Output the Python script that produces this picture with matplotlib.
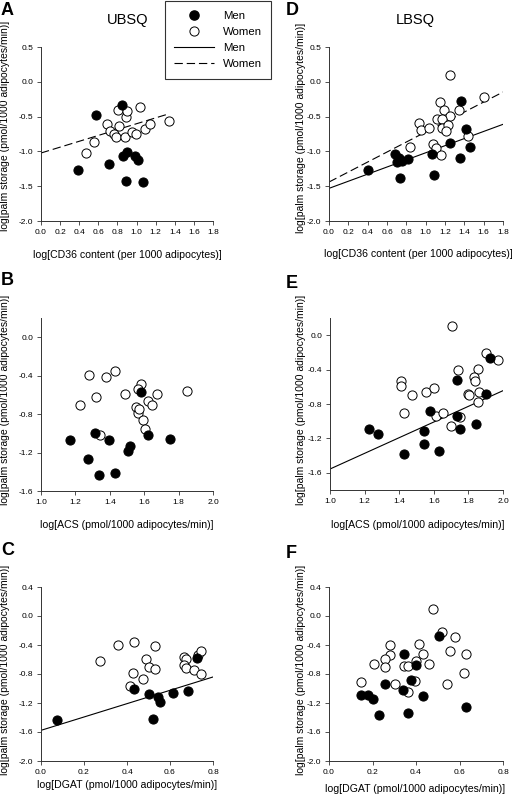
import numpy as np
import matplotlib.pyplot as plt
from matplotlib.lines import Line2D

plt.rcParams["font.family"] = ["Liberation Sans", "DejaVu Sans"]

# ---- data ----
# A: UBSQ vs CD36
a_men_x = [0.848, 0.576, 0.391, 0.712, 0.900, 0.855, 0.987, 1.012, 0.890, 1.071]
a_men_y = [-0.333, -0.477, -1.272, -1.186, -1.009, -1.071, -1.066, -1.128, -1.425, -1.435]
a_women_x = [0.471, 0.551, 0.687, 0.722, 0.760, 0.785, 0.802, 0.816, 0.879, 0.890,
             0.900, 0.952, 0.994, 1.036, 1.085, 1.144, 1.340]
a_women_y = [-1.03, -0.87, -0.60, -0.70, -0.745, -0.80, -0.40, -0.63, -0.79, -0.50,
             -0.42, -0.716, -0.755, -0.362, -0.673, -0.60, -0.563]
a_women_fit_x = [0.0, 1.343]
a_women_fit_y = [-1.023, -0.458]

# D: LBSQ vs CD36
d_men_x = [0.400, 0.683, 0.724, 0.703, 0.752, 0.821, 0.731, 1.062, 1.090, 1.255,
           1.366, 1.421, 1.359, 1.455]
d_men_y = [-1.262, -1.042, -1.095, -1.157, -1.143, -1.109, -1.377, -1.033, -1.339, -0.884,
           -0.276, -0.678, -1.090, -0.942]
d_women_x = [1.255, 1.603, 1.145, 1.190, 1.345, 1.252, 1.114, 1.169, 1.166, 1.231,
             1.210, 0.931, 0.955, 1.034, 0.838, 1.072, 1.103, 1.162, 1.441]
d_women_y = [0.098, -0.218, -0.285, -0.41, -0.40, -0.49, -0.53, -0.53, -0.669, -0.62,
             -0.70, -0.597, -0.697, -0.659, -0.932, -0.898, -0.946, -1.052, -0.784]
d_men_fit_x = [0.0, 1.8]
d_men_fit_y = [-1.531, -0.611]
d_women_fit_x = [0.0, 1.8]
d_women_fit_y = [-1.44, -0.147]

# B: UBSQ vs ACS
b_men_x = [1.171, 1.275, 1.316, 1.339, 1.395, 1.430, 1.504, 1.517, 1.579, 1.622, 1.748]
b_men_y = [-1.066, -1.264, -1.0, -1.43, -1.073, -1.416, -1.184, -1.128, -0.573, -1.021, -1.062]
b_women_x = [1.227, 1.277, 1.320, 1.378, 1.428, 1.341, 1.488, 1.579, 1.566, 1.550,
             1.562, 1.568, 1.591, 1.603, 1.620, 1.643, 1.672, 1.847]
b_women_y = [-0.702, -0.390, -0.622, -0.414, -0.351, -1.021, -0.594, -0.490, -0.539, -0.729,
             -0.788, -0.747, -0.861, -0.955, -0.664, -0.709, -0.591, -0.556]

# E: LBSQ vs ACS
e_men_x = [1.227, 1.277, 1.428, 1.541, 1.543, 1.576, 1.630, 1.736, 1.736, 1.753,
           1.842, 1.900, 1.925]
e_men_y = [-1.09, -1.145, -1.381, -1.265, -1.114, -0.881, -1.343, -0.525, -0.943, -1.09,
           -1.033, -0.680, -0.269]
e_women_x = [1.707, 1.900, 1.969, 1.738, 1.855, 1.830, 1.836, 1.410, 1.410, 1.474,
             1.555, 1.601, 1.796, 1.803, 1.863, 1.855, 1.430, 1.613, 1.651, 1.697, 1.753]
e_women_y = [0.107, -0.211, -0.284, -0.401, -0.389, -0.486, -0.529, -0.529, -0.595, -0.699,
             -0.657, -0.618, -0.684, -0.699, -0.664, -0.781, -0.905, -0.936, -0.901, -1.052, -0.947]
e_all_fit_x = [1.0, 2.0]
e_all_fit_y = [-1.556, -0.645]

# C: UBSQ vs DGAT
c_men_x = [0.074, 0.431, 0.504, 0.543, 0.555, 0.519, 0.614, 0.682, 0.726]
c_men_y = [-1.43, -1.007, -1.076, -1.122, -1.186, -1.421, -1.062, -1.03, -0.584]
c_women_x = [0.276, 0.360, 0.431, 0.532, 0.490, 0.502, 0.532, 0.429, 0.476, 0.412,
             0.664, 0.673, 0.667, 0.674, 0.710, 0.744, 0.732, 0.743]
c_women_y = [-0.625, -0.395, -0.354, -0.418, -0.598, -0.703, -0.736, -0.786, -0.869, -0.961,
             -0.566, -0.593, -0.676, -0.713, -0.749, -0.795, -0.543, -0.487]
c_all_fit_x = [0.0, 0.8]
c_all_fit_y = [-1.577, -0.841]

# F: LBSQ vs DGAT
f_men_x = [0.146, 0.178, 0.204, 0.231, 0.256, 0.343, 0.342, 0.363, 0.379, 0.398,
           0.432, 0.504, 0.631]
f_men_y = [-1.094, -1.094, -1.140, -1.370, -0.938, -0.524, -1.025, -1.333, -0.878, -0.680,
           -1.103, -0.271, -1.255]
f_women_x = [0.477, 0.520, 0.578, 0.556, 0.631, 0.622, 0.544, 0.146, 0.205, 0.279,
             0.279, 0.256, 0.256, 0.302, 0.345, 0.363, 0.398, 0.414, 0.432, 0.461,
             0.397, 0.362]
f_women_y = [0.097, -0.216, -0.290, -0.487, -0.529, -0.782, -0.943, -0.906, -0.657, -0.405,
             -0.533, -0.593, -0.699, -0.933, -0.694, -0.685, -0.616, -0.391, -0.520, -0.667,
             -0.892, -1.053]

# tick values
ticks_cd36 = [0.0, 0.2, 0.4, 0.6, 0.8, 1.0, 1.2, 1.4, 1.6, 1.8]
ticks_acs = [1.0, 1.2, 1.4, 1.6, 1.8, 2.0]
ticks_dgat = [0.0, 0.2, 0.4, 0.6, 0.8]
yticks_top = [-2.0, -1.5, -1.0, -0.5, 0.0, 0.5]
yticks_mid = [-1.6, -1.2, -0.8, -0.4, 0.0]
yticks_bot = [-2.0, -1.6, -1.2, -0.8, -0.4, 0.0, 0.4]

ylabel = "log[palm storage (pmol/1000 adipocytes/min)]"
xlabel_cd36 = "log[CD36 content (per 1000 adipocytes)]"
xlabel_acs = "log[ACS (pmol/1000 adipocytes/min)]"
xlabel_dgat = "log[DGAT (pmol/1000 adipocytes/min)]"

W, H = 515, 800
fig = plt.figure(figsize=(W / 100, H / 100), dpi=100)


def add_axes(left, top, right, bottom):
    # pixel box -> figure fraction
    return fig.add_axes([left / W, 1 - bottom / H, (right - left) / W, (bottom - top) / H])


def draw(ax, mx, my, wx, wy, xlim, xticks, ylim, yticks):
    ax.plot(wx, wy, "o", ms=6.6, mfc="white", mec="black", mew=0.7, clip_on=False, zorder=3)
    ax.plot(mx, my, "o", ms=6.6, mfc="black", mec="black", mew=0.7, clip_on=False, zorder=4)
    ax.set_xlim(xlim)
    ax.set_ylim(ylim)
    ax.set_xticks(xticks)
    ax.set_yticks(yticks)
    ax.set_xticklabels([f"{t:.1f}" for t in xticks])
    ax.set_yticklabels([f"{t:.1f}" for t in yticks])
    for s in ["top", "right"]:
        ax.spines[s].set_visible(False)
    for s in ["left", "bottom"]:
        ax.spines[s].set_linewidth(0.7)
        ax.spines[s].set_color("#333333")
    ax.tick_params(direction="out", length=3, width=0.6, labelsize=6, pad=2.5, color="#333333")


# ---- A ----
axA = add_axes(41, 47, 213, 221)
draw(axA, a_men_x, a_men_y, a_women_x, a_women_y, (0, 1.8), ticks_cd36, (-2.0, 0.5), yticks_top)
axA.plot(a_women_fit_x, a_women_fit_y, color="black", lw=0.8, dashes=(7.5, 3.5))

# ---- D ----
axD = add_axes(329, 47, 503, 221)
draw(axD, d_men_x, d_men_y, d_women_x, d_women_y, (0, 1.8), ticks_cd36, (-2.0, 0.5), yticks_top)
axD.plot(d_men_fit_x, d_men_fit_y, color="black", lw=0.8)
axD.plot(d_women_fit_x, d_women_fit_y, color="black", lw=0.8, dashes=(7.5, 3.5))

# ---- B ----
axB = add_axes(41, 318, 213, 491)
draw(axB, b_men_x, b_men_y, b_women_x, b_women_y, (1.0, 2.0), ticks_acs, (-1.6, 0.2), yticks_mid)

# ---- E ----
axE = add_axes(330, 318, 503, 490)
draw(axE, e_men_x, e_men_y, e_women_x, e_women_y, (1.0, 2.0), ticks_acs, (-1.8, 0.2), yticks_mid)
axE.plot(e_all_fit_x, e_all_fit_y, color="black", lw=0.8)

# ---- C ----
axC = add_axes(41, 587, 213, 761)
draw(axC, c_men_x, c_men_y, c_women_x, c_women_y, (0, 0.8), ticks_dgat, (-2.0, 0.4), yticks_bot)
axC.plot(c_all_fit_x, c_all_fit_y, color="black", lw=0.8)

# ---- F ----
axF = add_axes(329, 587, 503, 761)
draw(axF, f_men_x, f_men_y, f_women_x, f_women_y, (0, 0.8), ticks_dgat, (-2.0, 0.4), yticks_bot)

# axis labels (placed in pixels to match the layout)
for x, y in [(5, 126), (301, 128), (5, 400), (301, 400), (5, 670), (301, 670)]:
    fig.text(x / W, 1 - y / H, ylabel, rotation=90, ha="center", va="center", fontsize=7.5)
for x, y, t in [(127, 255, xlabel_cd36), (418, 254, xlabel_cd36),
                (127, 525, xlabel_acs), (418, 525, xlabel_acs),
                (127, 785, xlabel_dgat), (415, 789, xlabel_dgat)]:
    fig.text(x / W, 1 - y / H, t, ha="center", va="center", fontsize=7.6)

# panel letters and titles
for x, y, t in [(1, 2, "A"), (286, 2, "D"), (1, 272, "B"), (286, 275, "E"),
                (1, 542, "C"), (286, 545, "F")]:
    fig.text(x / W, 1 - y / H, t, ha="left", va="top", fontsize=13, fontweight="bold")
fig.text(128 / W, 1 - 20 / H, "UBSQ", ha="center", va="center", fontsize=10.5)
fig.text(415 / W, 1 - 20 / H, "LBSQ", ha="center", va="center", fontsize=10.5)

# legend
handles = [
    Line2D([], [], ls="none", marker="o", ms=6.6, mfc="black", mec="black"),
    Line2D([], [], ls="none", marker="o", ms=6.6, mfc="white", mec="black", mew=0.7),
    Line2D([], [], color="black", lw=0.8),
    Line2D([], [], color="black", lw=0.8, dashes=(7.5, 3.5)),
]
leg = fig.legend(handles, ["Men", "Women", "Men", "Women"], loc="upper left",
                 bbox_to_anchor=(165 / W, 1 - 1 / H), fontsize=8.2, frameon=True,
                 fancybox=False, handlelength=3.5, handleheight=1.0, handletextpad=0.8,
                 labelspacing=0.45, borderpad=0.8, borderaxespad=0)
leg.get_frame().set_edgecolor("black")
leg.get_frame().set_linewidth(0.8)

fig.savefig("out.png", dpi=100)
